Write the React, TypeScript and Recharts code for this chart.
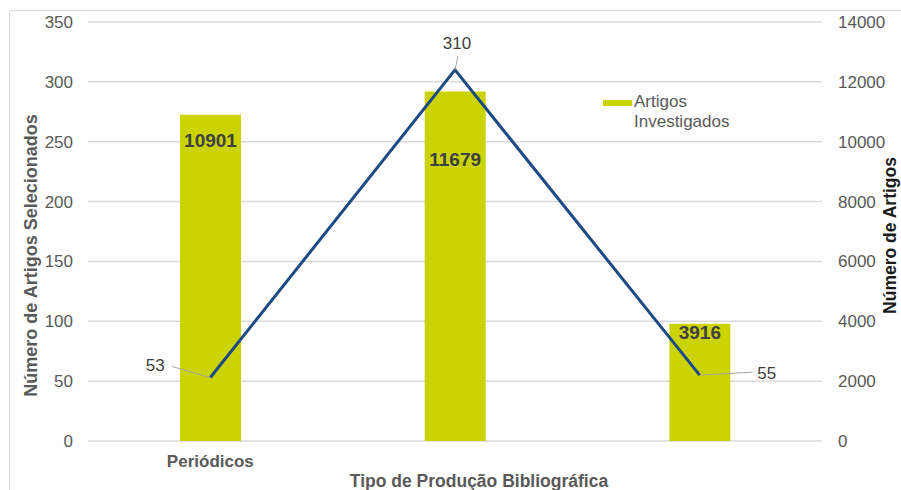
import {
  ComposedChart,
  Bar,
  Line,
  XAxis,
  YAxis,
  CartesianGrid,
  Legend,
  LabelList,
  Label,
} from "recharts";

const categories = ["Periódicos", "Categoria 2", "Categoria 3"];
const tickLabels = ["Periódicos", "", ""];
const artigosInvestigados = [10901, 11679, 3916];
const artigosSelecionados = [53, 310, 55];
const leftTicks = [0, 50, 100, 150, 200, 250, 300, 350];
const rightTicks = [0, 2000, 4000, 6000, 8000, 10000, 12000, 14000];

// label placement tweaks (offsets from the mark)
const barLabelDrop = [26, 68, 9];
const lineLabelOffset = [
  { dx: -55, dy: -12, lx: -38, ly: -11 },
  { dx: 2, dy: -26, lx: 3, ly: -14 },
  { dx: 67, dy: -2, lx: 53, ly: -3 },
];

const data = categories.map((c, i) => ({
  name: c,
  investigados: artigosInvestigados[i],
  selecionados: artigosSelecionados[i],
}));

const FONT = "'Liberation Sans', Arial, sans-serif";
const TICK = { fill: "#595959", fontSize: 17, fontFamily: FONT };

function BarValueLabel(props: any) {
  const { x, y, width, value, index } = props;
  return (
    <text
      x={x + width / 2}
      y={y + barLabelDrop[index]}
      textAnchor="middle"
      dominantBaseline="central"
      fill="#404040"
      fontSize={19}
      fontWeight="bold"
      fontFamily={FONT}
    >
      {value}
    </text>
  );
}

function LineValueLabel(props: any) {
  const { x, y, value, index } = props;
  const o = lineLabelOffset[index];
  return (
    <g>
      <line x1={x} y1={y} x2={x + o.lx} y2={y + o.ly} stroke="#a6a6a6" strokeWidth={1} />
      <text
        x={x + o.dx}
        y={y + o.dy}
        textAnchor="middle"
        dominantBaseline="central"
        fill="#404040"
        fontSize={17}
        fontFamily={FONT}
      >
        {value}
      </text>
    </g>
  );
}

function LegendBox() {
  return (
    <div style={{ fontFamily: FONT, fontSize: 17, color: "#595959", lineHeight: "20px", display: "flex" }}>
      <div style={{ width: 29, height: 6, background: "#CBD300", marginTop: 8, marginRight: 2 }} />
      <div>
        Artigos
        <br />
        Investigados
      </div>
    </div>
  );
}

export default function App() {
  return (
    <div style={{ position: "absolute", left: 0, top: 0, width: 901, height: 490, overflow: "hidden", background: "#fff" }}>
      <div
        style={{
          position: "absolute",
          left: 9,
          top: 10,
          width: 960,
          height: 560,
          border: "1px solid #d9d9d9",
          borderRadius: 3,
        }}
      />
      <ComposedChart
        width={901}
        height={490}
        data={data}
        margin={{ top: 22, right: 0, bottom: 0, left: 10 }}
        style={{ position: "absolute", left: 0, top: 0 }}
      >
        <CartesianGrid vertical={false} stroke="#d9d9d9" strokeWidth={1.5} yAxisId="left" />
        <XAxis
          dataKey="name"
          height={49}
          axisLine={false}
          tickLine={false}
          tickSize={0}
          tickMargin={14}
          tick={{ ...TICK, fontWeight: "bold" }}
          tickFormatter={(_v: string, i: number) => tickLabels[i]}
        >
          <Label
            content={(p: any) => (
              <text
                x={p.viewBox.x + p.viewBox.width / 2 + 24}
                y={p.viewBox.y + 40}
                textAnchor="middle"
                dominantBaseline="central"
                fill="#595959"
                fontSize={17.5}
                fontWeight="bold"
                fontFamily={FONT}
              >
                Tipo de Produção Bibliográfica
              </text>
            )}
          />
        </XAxis>
        <YAxis
          yAxisId="left"
          width={78}
          domain={[0, 350]}
          ticks={leftTicks}
          axisLine={false}
          tickLine={false}
          tickSize={0}
          tickMargin={15}
          tick={TICK}
        >
          <Label
            content={(p: any) => {
              const cx = p.viewBox.x + 21;
              const cy = p.viewBox.y + p.viewBox.height / 2 + 24;
              return (
                <text
                  x={cx}
                  y={cy}
                  transform={`rotate(-90 ${cx} ${cy})`}
                  textAnchor="middle"
                  dominantBaseline="central"
                  fill="#595959"
                  fontSize={18}
                  fontWeight="bold"
                  fontFamily={FONT}
                >
                  Número de Artigos Selecionados
                </text>
              );
            }}
          />
        </YAxis>
        <YAxis
          yAxisId="right"
          orientation="right"
          width={79}
          domain={[0, 14000]}
          ticks={rightTicks}
          axisLine={false}
          tickLine={false}
          tickSize={0}
          tickMargin={16}
          tick={TICK}
        >
          <Label
            content={(p: any) => {
              const cx = p.viewBox.x + 68;
              const cy = p.viewBox.y + p.viewBox.height / 2 + 4;
              return (
                <text
                  x={cx}
                  y={cy}
                  transform={`rotate(-90 ${cx} ${cy})`}
                  textAnchor="middle"
                  dominantBaseline="central"
                  fill="#1a1a1a"
                  fontSize={17.5}
                  fontWeight="bold"
                  fontFamily={FONT}
                >
                  Número de Artigos
                </text>
              );
            }}
          />
        </YAxis>
        <Legend
          layout="horizontal"
          verticalAlign="middle"
          align="center"
          content={<LegendBox />}
          wrapperStyle={{ position: "absolute", left: 603, top: 92, width: 160, bottom: "auto", right: "auto" }}
        />
        <Bar
          yAxisId="right"
          dataKey="investigados"
          name="Artigos Investigados"
          fill="#CBD300"
          barSize={61}
          isAnimationActive={false}
        >
          <LabelList dataKey="investigados" content={<BarValueLabel />} />
        </Bar>
        <Line
          yAxisId="left"
          dataKey="selecionados"
          type="linear"
          stroke="#1B4A84"
          strokeWidth={3}
          dot={false}
          activeDot={false}
          legendType="none"
          isAnimationActive={false}
        >
          <LabelList dataKey="selecionados" content={<LineValueLabel />} />
        </Line>
      </ComposedChart>
    </div>
  );
}
